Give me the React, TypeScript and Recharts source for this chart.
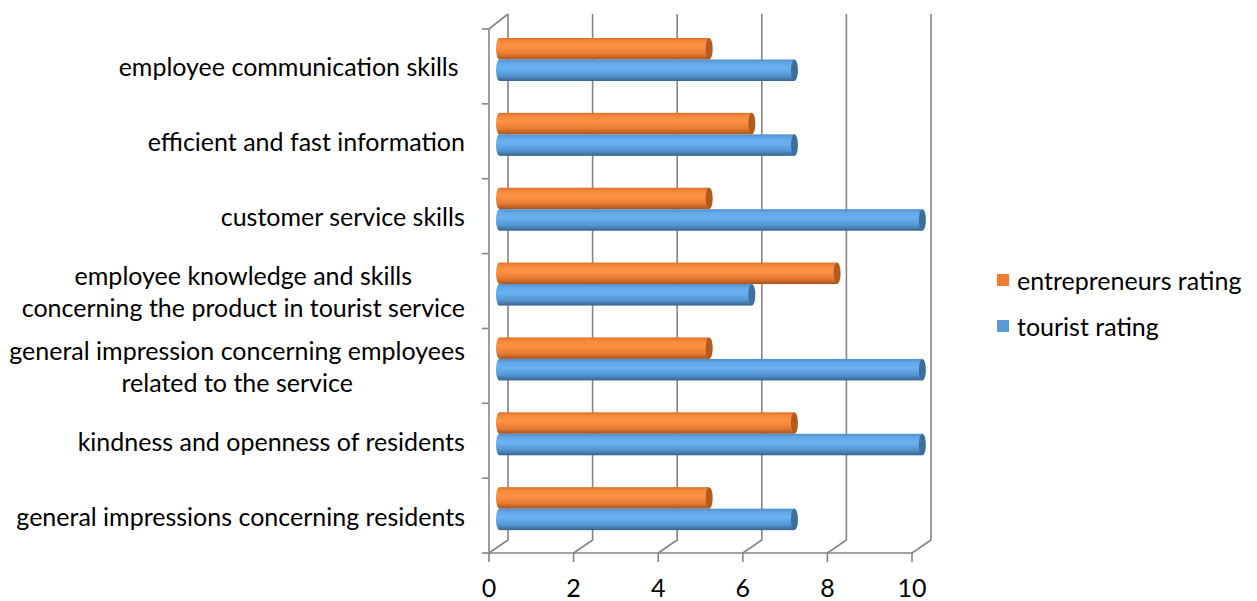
import React from 'react';
import { BarChart, Bar, XAxis, YAxis, CartesianGrid, Legend } from 'recharts';

const categories = [
  'employee communication skills ',
  'efficient and fast information',
  'customer service skills',
  'employee knowledge and skills\nconcerning the product in tourist service',
  'general impression concerning employees\nrelated to the service',
  'kindness and openness of residents',
  'general impressions concerning residents',
];
const entrepreneursRating = [5, 6, 5, 8, 5, 7, 5];
const touristRating = [7, 7, 10, 6, 10, 10, 7];
const xTicks = [0, 2, 4, 6, 8, 10];

const data = categories.map((name, i) => ({
  name,
  entrepreneurs: entrepreneursRating[i],
  tourist: touristRating[i],
}));

const FONT = 'Lato, "Open Sans", sans-serif';
const FS = 25;
const W = 1249;
const H = 593;
const MARGIN = { top: 21, right: 345, bottom: 8, left: 0 };
const Y_WIDTH = 481;
const X_HEIGHT = 40;
const PLOT_LEFT = MARGIN.left + Y_WIDTH;
const PLOT_H = H - MARGIN.top - MARGIN.bottom - X_HEIGHT;
const BAND = PLOT_H / categories.length;
const LABEL_RIGHT = PLOT_LEFT - 24;
const LINE_H = 32;
const GRID = '#858585';
const GRID_W = 1.6;

// depth offsets of the fake 3d box
const BACK_DX = 19;
const BACK_DY = -13;
const BAR_DX = 7;
const BAR_DY = -7;

let ctx: CanvasRenderingContext2D | null = null;
const measure = (s: string) => {
  if (!ctx) ctx = document.createElement('canvas').getContext('2d');
  if (!ctx) return s.length * FS * 0.45;
  ctx.font = `${FS}px ${FONT}`;
  return ctx.measureText(s).width;
};

const CategoryTick = (props: any) => {
  const { y, payload, index } = props;
  const lines = String(payload.value).split('\n');
  const maxW = Math.max(...lines.map(measure));
  const cx = LABEL_RIGHT - maxW / 2;
  const top = y - ((lines.length - 1) * LINE_H) / 2;
  return (
    <g>
      <line x1={PLOT_LEFT - 7} x2={PLOT_LEFT} y1={y - BAND / 2} y2={y - BAND / 2} stroke={GRID} strokeWidth={GRID_W} />
      {index === categories.length - 1 && (
        <line x1={PLOT_LEFT - 7} x2={PLOT_LEFT} y1={y + BAND / 2} y2={y + BAND / 2} stroke={GRID} strokeWidth={GRID_W} />
      )}
      <text textAnchor="middle" fill="#000" fontSize={FS} fontFamily={FONT} style={{ whiteSpace: 'pre' }}>
        {lines.map((l, i) => (
          <tspan key={i} x={cx} y={top + i * LINE_H} dy="0.4em">
            {l}
          </tspan>
        ))}
      </text>
    </g>
  );
};

const BackGridLine = (props: any) => {
  const { x1, y1, y2, index } = props;
  const bx = x1 + BACK_DX;
  return (
    <g key={`g-${index}`}>
      <path
        d={`M${bx},${y1 - 15} L${bx},${y2 + BACK_DY} L${x1},${y2}`}
        fill="none"
        stroke={GRID}
        strokeWidth={GRID_W}
      />
      {index === 0 && <path d={`M${x1},${y1} L${bx},${y1 - 15}`} fill="none" stroke={GRID} strokeWidth={GRID_W} />}
    </g>
  );
};

const Cylinder = (props: any) => {
  const { x, y, width, height, gid, cap } = props;
  if (width == null || width <= 0) return null;
  const x0 = x + BAR_DX;
  const y0 = y + BAR_DY;
  const w = width * 1.008;
  const rx = 3.5;
  const ry = height / 2;
  return (
    <g>
      <ellipse cx={x0 + rx} cy={y0 + ry} rx={rx} ry={ry} fill={`url(#${gid})`} />
      <rect x={x0 + rx} y={y0} width={w - rx} height={height} fill={`url(#${gid})`} />
      <ellipse cx={x0 + w} cy={y0 + ry} rx={rx} ry={ry} fill={cap} />
    </g>
  );
};

const LegendBox = () => {
  const items = [
    { label: 'entrepreneurs rating', color: '#ed7d31' },
    { label: 'tourist rating', color: '#5b9bd5' },
  ];
  return (
    <div style={{ fontFamily: FONT, fontSize: FS }}>
      {items.map((it) => (
        <div key={it.label} style={{ display: 'flex', alignItems: 'center', height: 36, marginBottom: 10 }}>
          <span style={{ width: 12, height: 12, background: it.color, display: 'inline-block', marginRight: 8 }} />
          <span style={{ color: '#000', whiteSpace: 'nowrap' }}>{it.label}</span>
        </div>
      ))}
    </div>
  );
};

export default function App() {
  return (
    <div style={{ width: W, height: H }}>
      <BarChart width={W} height={H} data={data} layout="vertical" margin={MARGIN} barSize={21.5} barGap={0}>
        <defs>
          <linearGradient id="gOrange" x1="0" y1="0" x2="0" y2="1">
            <stop offset="0" stopColor="#e0702a" />
            <stop offset="0.15" stopColor="#f7883a" />
            <stop offset="0.4" stopColor="#ff9244" />
            <stop offset="0.75" stopColor="#e57a31" />
            <stop offset="1" stopColor="#a8541c" />
          </linearGradient>
          <linearGradient id="gBlue" x1="0" y1="0" x2="0" y2="1">
            <stop offset="0" stopColor="#4f8fcb" />
            <stop offset="0.15" stopColor="#62a6e6" />
            <stop offset="0.4" stopColor="#6ab2f2" />
            <stop offset="0.75" stopColor="#5596d2" />
            <stop offset="1" stopColor="#37648f" />
          </linearGradient>
        </defs>
        <CartesianGrid horizontal={false} vertical={BackGridLine} stroke={GRID} />
        <XAxis
          type="number"
          domain={[0, 10]}
          ticks={xTicks}
          height={X_HEIGHT}
          tickSize={9}
          tickMargin={17}
          axisLine={{ stroke: GRID, strokeWidth: GRID_W }}
          tickLine={{ stroke: GRID, strokeWidth: GRID_W }}
          tick={{ fill: '#000', fontSize: FS, fontFamily: FONT }}
        />
        <YAxis
          type="category"
          dataKey="name"
          width={Y_WIDTH}
          tickLine={false}
          axisLine={{ stroke: GRID, strokeWidth: GRID_W }}
          tick={CategoryTick}
          interval={0}
        />
        <Legend
          layout="vertical"
          align="center"
          verticalAlign="middle"
          content={LegendBox}
          wrapperStyle={{ left: 989, top: 254, width: 260 }}
        />
        <Bar
          dataKey="entrepreneurs"
          name="entrepreneurs rating"
          fill="#ed7d31"
          isAnimationActive={false}
          shape={(p: any) => <Cylinder {...p} gid="gOrange" cap="#b35a1f" />}
        />
        <Bar
          dataKey="tourist"
          name="tourist rating"
          fill="#5b9bd5"
          isAnimationActive={false}
          shape={(p: any) => <Cylinder {...p} gid="gBlue" cap="#3c6e9e" />}
        />
      </BarChart>
    </div>
  );
}
